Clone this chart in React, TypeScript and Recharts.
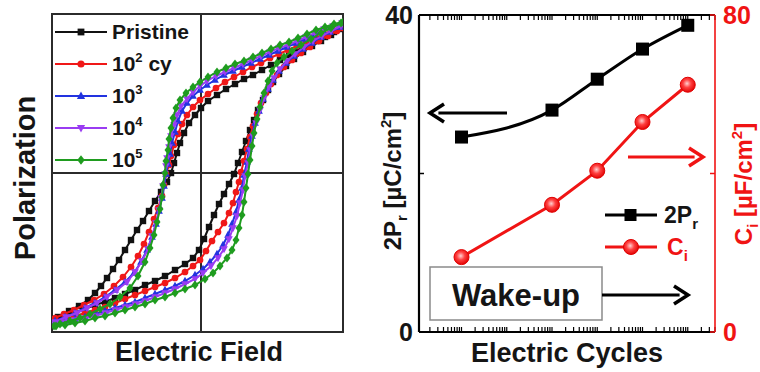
import React from 'react';
import {
  ScatterChart,
  Scatter,
  XAxis,
  YAxis,
  ReferenceLine,
  ReferenceArea,
  ComposedChart,
  Line,
} from 'recharts';

// ---------- Hysteresis loops: [E (MV/cm), P (µC/cm²)] ----------
type Pt = [number, number];

const pristineRise: Pt[] = [[-2.92,-29.2],[-2.72,-28.6],[-2.52,-28.0],[-2.32,-27.2],[-2.12,-26.4],[-1.92,-25.8],[-1.72,-25.0],[-1.52,-24.2],[-1.32,-23.4],[-1.12,-22.4],[-0.92,-21.6],[-0.72,-20.6],[-0.52,-19.4],[-0.32,-18.2],[-0.16,-17.0],[-0.04,-15.4],[0.06,-13.2],[0.16,-10.8],[0.26,-8.4],[0.36,-6.2],[0.46,-4.2],[0.56,-2.2],[0.66,-0.2],[0.74,2.0],[0.82,4.2],[0.90,6.4],[0.98,8.6],[1.06,10.6],[1.14,12.6],[1.24,14.6],[1.34,16.6],[1.44,18.2],[1.56,19.8],[1.70,21.4],[1.86,22.8],[2.04,24.2],[2.22,25.4],[2.40,26.4],[2.60,27.6],[2.80,28.8]];
const pristineFall: Pt[] = [[2.84,29.0],[2.66,28.2],[2.48,27.2],[2.30,26.4],[2.12,25.4],[1.94,24.4],[1.76,23.6],[1.58,22.6],[1.40,21.6],[1.22,20.6],[1.04,19.6],[0.86,18.8],[0.68,17.8],[0.50,16.8],[0.32,15.6],[0.14,14.4],[0.00,13.0],[-0.12,11.6],[-0.24,10.0],[-0.34,8.0],[-0.42,6.0],[-0.48,4.0],[-0.54,2.0],[-0.60,0.0],[-0.68,-1.8],[-0.80,-3.8],[-0.92,-5.6],[-1.04,-7.6],[-1.16,-9.6],[-1.28,-11.4],[-1.40,-13.4],[-1.52,-15.4],[-1.64,-17.4],[-1.76,-19.2],[-1.88,-21.0],[-2.00,-22.6],[-2.12,-24.0],[-2.26,-25.4],[-2.44,-26.6],[-2.64,-27.6],[-2.86,-28.8]];

const cy100Rise: Pt[] = [[-2.92,-29.6],[-2.72,-29.2],[-2.52,-28.6],[-2.32,-28.0],[-2.12,-27.4],[-1.92,-26.8],[-1.72,-26.0],[-1.52,-25.2],[-1.32,-24.4],[-1.12,-23.6],[-0.92,-22.8],[-0.72,-22.0],[-0.52,-21.0],[-0.32,-19.8],[-0.16,-18.6],[-0.02,-17.4],[0.10,-15.6],[0.22,-13.6],[0.34,-11.8],[0.46,-10.0],[0.56,-8.0],[0.64,-6.0],[0.70,-3.8],[0.76,-1.8],[0.80,0.2],[0.86,2.4],[0.92,4.8],[0.98,7.2],[1.04,9.4],[1.12,11.8],[1.20,14.0],[1.30,16.0],[1.40,17.8],[1.52,19.6],[1.66,21.2],[1.82,22.6],[2.00,24.0],[2.18,25.2],[2.36,26.4],[2.54,27.4],[2.72,28.4],[2.82,29.0]];
const cy100Fall: Pt[] = [[2.82,29.4],[2.64,28.6],[2.46,27.8],[2.28,27.0],[2.10,26.2],[1.92,25.4],[1.74,24.6],[1.56,23.8],[1.38,23.0],[1.20,22.0],[1.02,21.2],[0.84,20.2],[0.66,19.2],[0.48,18.2],[0.30,17.0],[0.14,15.8],[-0.02,14.6],[-0.16,13.2],[-0.28,11.6],[-0.38,9.8],[-0.46,7.8],[-0.54,5.6],[-0.60,3.4],[-0.64,1.6],[-0.70,-0.2],[-0.74,-2.4],[-0.78,-4.6],[-0.86,-7.0],[-0.94,-9.2],[-1.04,-11.8],[-1.14,-14.2],[-1.26,-16.6],[-1.40,-18.8],[-1.56,-20.8],[-1.74,-22.6],[-1.94,-24.2],[-2.14,-25.4],[-2.34,-26.4],[-2.54,-27.4],[-2.74,-28.2],[-2.92,-29.0]];

const cy1kRise: Pt[] = [[-2.92,-30.0],[-2.72,-29.6],[-2.52,-29.2],[-2.32,-28.8],[-2.12,-28.2],[-1.92,-27.6],[-1.72,-27.0],[-1.52,-26.4],[-1.32,-25.8],[-1.12,-25.0],[-0.92,-24.2],[-0.72,-23.4],[-0.52,-22.6],[-0.32,-21.6],[-0.12,-20.4],[0.04,-19.2],[0.18,-17.8],[0.32,-16.2],[0.44,-14.4],[0.54,-12.4],[0.62,-10.2],[0.70,-7.8],[0.76,-5.4],[0.82,-3.0],[0.86,-0.4],[0.92,2.2],[0.96,4.8],[1.02,7.4],[1.08,10.0],[1.16,12.4],[1.24,14.8],[1.34,16.8],[1.44,18.6],[1.56,20.4],[1.70,22.0],[1.86,23.4],[2.04,24.8],[2.22,26.0],[2.40,27.2],[2.58,28.2],[2.78,29.2]];
const cy1kFall: Pt[] = [[2.80,29.8],[2.62,29.2],[2.44,28.4],[2.26,27.6],[2.08,26.8],[1.90,26.0],[1.72,25.2],[1.54,24.4],[1.36,23.6],[1.18,22.8],[1.00,22.0],[0.82,21.2],[0.64,20.4],[0.46,19.6],[0.28,18.6],[0.12,17.6],[-0.02,16.6],[-0.16,15.4],[-0.28,14.0],[-0.38,12.4],[-0.46,10.4],[-0.52,8.2],[-0.58,6.0],[-0.62,3.8],[-0.66,1.8],[-0.70,-0.2],[-0.74,-2.6],[-0.78,-5.0],[-0.84,-7.6],[-0.90,-10.2],[-0.98,-12.8],[-1.08,-15.4],[-1.20,-17.8],[-1.34,-20.0],[-1.52,-21.8],[-1.72,-23.4],[-1.92,-24.8],[-2.12,-26.0],[-2.32,-27.0],[-2.52,-28.0],[-2.72,-28.8],[-2.92,-29.6]];

const cy10kRise: Pt[] = [[-2.92,-30.2],[-2.72,-29.8],[-2.52,-29.4],[-2.32,-29.0],[-2.12,-28.6],[-1.92,-28.0],[-1.72,-27.4],[-1.52,-26.8],[-1.32,-26.2],[-1.12,-25.6],[-0.92,-24.8],[-0.72,-24.0],[-0.52,-23.2],[-0.32,-22.2],[-0.12,-21.2],[0.04,-20.0],[0.20,-18.6],[0.34,-17.0],[0.46,-15.2],[0.56,-13.2],[0.64,-11.0],[0.72,-8.6],[0.78,-6.0],[0.84,-3.4],[0.88,-0.6],[0.94,2.0],[0.98,4.6],[1.04,7.4],[1.10,10.0],[1.18,12.6],[1.26,15.0],[1.36,17.2],[1.46,19.0],[1.58,20.8],[1.72,22.4],[1.88,23.8],[2.06,25.2],[2.24,26.4],[2.42,27.4],[2.60,28.4],[2.80,29.4]];
const cy10kFall: Pt[] = [[2.82,30.0],[2.64,29.4],[2.46,28.8],[2.28,28.0],[2.10,27.2],[1.92,26.4],[1.74,25.6],[1.56,25.0],[1.38,24.2],[1.20,23.4],[1.02,22.6],[0.84,21.8],[0.66,21.0],[0.48,20.2],[0.30,19.4],[0.12,18.4],[-0.02,17.4],[-0.16,16.2],[-0.28,14.8],[-0.40,13.4],[-0.48,11.6],[-0.54,9.6],[-0.60,7.4],[-0.64,5.2],[-0.68,3.0],[-0.70,1.4],[-0.72,-0.2],[-0.76,-2.6],[-0.80,-5.0],[-0.84,-7.4],[-0.90,-10.0],[-0.98,-12.6],[-1.06,-15.2],[-1.18,-17.6],[-1.32,-19.8],[-1.48,-21.8],[-1.68,-23.4],[-1.88,-24.8],[-2.08,-26.0],[-2.28,-27.0],[-2.48,-28.0],[-2.70,-28.8],[-2.92,-29.8]];

const cy100kRise: Pt[] = [[-2.90,-30.6],[-2.72,-30.4],[-2.52,-30.0],[-2.32,-29.6],[-2.12,-29.0],[-1.92,-28.6],[-1.72,-28.0],[-1.52,-27.4],[-1.32,-26.8],[-1.12,-26.2],[-0.92,-25.4],[-0.72,-24.8],[-0.52,-24.0],[-0.32,-23.2],[-0.12,-22.4],[0.08,-21.2],[0.24,-20.0],[0.38,-18.6],[0.52,-17.0],[0.62,-15.4],[0.70,-13.4],[0.76,-11.0],[0.82,-8.4],[0.86,-5.8],[0.90,-3.0],[0.94,-0.2],[0.98,2.6],[1.02,5.4],[1.06,8.0],[1.12,10.8],[1.18,13.2],[1.26,16.0],[1.34,18.4],[1.42,20.4],[1.52,22.0],[1.66,23.2],[1.82,24.4],[2.00,25.6],[2.20,26.8],[2.40,28.0],[2.60,29.0],[2.80,30.0]];
const cy100kFall: Pt[] = [[2.84,30.2],[2.66,29.8],[2.48,29.2],[2.30,28.6],[2.12,27.8],[1.94,27.0],[1.76,26.2],[1.58,25.6],[1.40,24.8],[1.22,24.0],[1.04,23.2],[0.86,22.4],[0.68,21.8],[0.50,21.0],[0.32,20.2],[0.14,19.2],[-0.02,18.2],[-0.16,17.2],[-0.30,16.0],[-0.42,14.6],[-0.50,13.0],[-0.56,11.0],[-0.60,9.0],[-0.64,6.8],[-0.66,4.6],[-0.70,2.4],[-0.72,0.0],[-0.76,-2.4],[-0.78,-4.8],[-0.82,-7.2],[-0.88,-9.8],[-0.94,-12.4],[-1.02,-15.0],[-1.12,-17.8],[-1.26,-20.6],[-1.42,-23.0],[-1.62,-24.8],[-1.82,-26.2],[-2.02,-27.2],[-2.22,-28.2],[-2.42,-29.0],[-2.62,-29.6],[-2.82,-30.2],[-2.94,-30.6]];

const loopNames = ['Pristine', '10', '10', '10', '10'];
const loopNameSup = ['', '2', '3', '4', '5'];
const loopNameTail = ['', ' cy', '', '', ''];
const loopColors = ['#111111', '#f01818', '#2233e0', '#9a3cf2', '#1f9c1f'];
type MarkerKind = 'square' | 'circle' | 'up' | 'down' | 'diamond';
const loopMarkers: MarkerKind[] = ['square', 'circle', 'up', 'down', 'diamond'];
const loopBranches: [Pt[], Pt[]][] = [
  [pristineRise, pristineFall],
  [cy100Rise, cy100Fall],
  [cy1kRise, cy1kFall],
  [cy10kRise, cy10kFall],
  [cy100kRise, cy100kFall],
];

const E_DOMAIN: [number, number] = [-2.98, 2.84];
const P_DOMAIN: [number, number] = [-31.8, 31.8];

// ---------- Wake-up trend ----------
const cycles = [1, 1e2, 1e3, 1e4, 1e5];
const twoPr = [24.6, 28.0, 31.9, 35.7, 38.7];
const ci = [18.9, 32.1, 40.7, 53.0, 62.4];

const prTicks = [0, 20, 40];
const prTickLabels = ['0', '', '40'];
const ciTicks = [0, 40, 80];
const ciTickLabels = ['0', '', '80'];
const CYCLE_DOMAIN: [number, number] = [0.115, 4e5];
const decadeStarts = [0.1, 1, 10, 100, 1e3, 1e4, 1e5];
const minorSteps = [1, 2, 3, 4, 5, 6, 7, 8, 9];

const FONT = '"Liberation Sans", Arial, Helvetica, sans-serif';
const RED = '#f01414';
const INK = '#151515';

const cycleTicks = decadeStarts
  .flatMap((d) => minorSteps.map((m) => +(d * m).toPrecision(3)))
  .filter((v) => v >= CYCLE_DOMAIN[0] && v <= CYCLE_DOMAIN[1]);

const trendRows = cycles.map((c, i) => ({ cycles: c, pr: twoPr[i], ci: ci[i] }));

const loops = loopBranches.map(([rise, fall], i) => ({
  name: loopNames[i] + loopNameSup[i] + loopNameTail[i],
  color: loopColors[i],
  marker: loopMarkers[i],
  points: [...rise, ...fall].map(([E, P]) => ({ E, P })),
}));

function Marker({ kind, cx, cy, color, s }: { kind: MarkerKind; cx: number; cy: number; color: string; s: number }) {
  if (cx == null || cy == null) return null;
  switch (kind) {
    case 'square':
      return <rect x={cx - s} y={cy - s} width={2 * s} height={2 * s} fill={color} />;
    case 'circle':
      return <circle cx={cx} cy={cy} r={s * 1.05} fill={color} />;
    case 'up':
      return <polygon points={`${cx},${cy - s * 1.3} ${cx + s * 1.2},${cy + s * 0.85} ${cx - s * 1.2},${cy + s * 0.85}`} fill={color} />;
    case 'down':
      return <polygon points={`${cx},${cy + s * 1.3} ${cx + s * 1.2},${cy - s * 0.85} ${cx - s * 1.2},${cy - s * 0.85}`} fill={color} />;
    default:
      return <polygon points={`${cx},${cy - s * 1.4} ${cx + s * 1.1},${cy} ${cx},${cy + s * 1.4} ${cx - s * 1.1},${cy}`} fill={color} />;
  }
}

function SquareDot(p: any) {
  if (p.cx == null || p.cy == null) return <g key={p.index} />;
  return <rect key={p.index} x={p.cx - 6.5} y={p.cy - 6.5} width={13} height={13} fill="#000" />;
}

function BallDot(p: any) {
  if (p.cx == null || p.cy == null) return <g key={p.index} />;
  const id = `ball-${p.index}`;
  return (
    <g key={p.index}>
      <defs>
        <radialGradient id={id} cx="45%" cy="42%" r="60%">
          <stop offset="0%" stopColor="#ffd0d0" />
          <stop offset="45%" stopColor="#ff4040" />
          <stop offset="100%" stopColor="#e00000" />
        </radialGradient>
      </defs>
      <circle cx={p.cx} cy={p.cy} r={7.5} fill={`url(#${id})`} stroke="#e00000" strokeWidth={1} />
    </g>
  );
}

function Arrow({ x1, x2, y, color }: { x1: number; x2: number; y: number; color: string }) {
  const dir = x2 > x1 ? 1 : -1;
  const head = 14;
  return (
    <g>
      <line x1={x1} y1={y} x2={x2 - dir * head * 0.6} y2={y} stroke={color} strokeWidth={3} />
      <polyline
        points={`${x2 - dir * head},${y - 9} ${x2},${y} ${x2 - dir * head},${y + 9}`}
        fill="none"
        stroke={color}
        strokeWidth={3.5}
        strokeLinejoin="miter"
      />
    </g>
  );
}

// tick marks without a label
const noLabel = () => <g />;

const prTick = (p: any) => {
  const i = prTicks.indexOf(p.payload?.value);
  return (
    <text x={p.x} y={p.y} dy={9} textAnchor="end" fontSize={25} fontWeight="bold" fill={INK} fontFamily={FONT}>
      {prTickLabels[i] ?? ''}
    </text>
  );
};

const ciTick = (p: any) => {
  const i = ciTicks.indexOf(p.payload?.value);
  return (
    <text x={p.x} y={p.y} dy={9} textAnchor="start" fontSize={25} fontWeight="bold" fill={RED} fontFamily={FONT}>
      {ciTickLabels[i] ?? ''}
    </text>
  );
};

export default function App() {
  return (
    <div style={{ position: 'absolute', left: 0, top: 0, width: 760, height: 372, background: '#fff', fontFamily: FONT }}>
      {/* P–E loops */}
      <div style={{ position: 'absolute', left: 0, top: 0 }}>
        <ScatterChart width={370} height={372} margin={{ top: 14, right: 27, bottom: 40, left: 52 }}>
          <XAxis type="number" dataKey="E" domain={E_DOMAIN} hide allowDataOverflow />
          <YAxis type="number" dataKey="P" domain={P_DOMAIN} hide allowDataOverflow />
          <ReferenceArea
            x1={E_DOMAIN[0]}
            x2={E_DOMAIN[1]}
            y1={P_DOMAIN[0]}
            y2={P_DOMAIN[1]}
            fill="none"
            fillOpacity={0}
            stroke="#2b2b2b"
            strokeWidth={2}
          />
          <ReferenceLine x={0} stroke="#2b2b2b" strokeWidth={2} />
          <ReferenceLine y={0} stroke="#2b2b2b" strokeWidth={2} />
          {loops.map((s) => (
            <Scatter
              key={s.name}
              name={s.name}
              data={s.points}
              fill={s.color}
              line={{ stroke: s.color, strokeWidth: 2 }}
              lineType="joint"
              isAnimationActive={false}
              shape={(p: any) => <Marker kind={s.marker} cx={p.cx} cy={p.cy} color={s.color} s={3.2} />}
            />
          ))}
        </ScatterChart>
      </div>

      {/* 2Pr and Ci versus cycles (both x axes share the same log scale) */}
      <div style={{ position: 'absolute', left: 370, top: 0 }}>
        <ComposedChart width={390} height={372} data={trendRows} margin={{ top: 14, right: 44, bottom: 39, left: 48 }}>
          <XAxis
            xAxisId="bottom"
            dataKey="cycles"
            type="number"
            scale="log"
            domain={CYCLE_DOMAIN}
            allowDataOverflow
            ticks={cycleTicks}
            interval={0}
            tick={noLabel}
            tickSize={-5}
            height={1}
            axisLine={{ stroke: '#000', strokeWidth: 2.2 }}
            tickLine={{ stroke: '#000', strokeWidth: 1.2 }}
          />
          <XAxis
            xAxisId="top"
            orientation="top"
            dataKey="cycles"
            type="number"
            scale="log"
            domain={CYCLE_DOMAIN}
            allowDataOverflow
            ticks={cycleTicks}
            interval={0}
            tick={noLabel}
            tickSize={-5}
            height={1}
            axisLine={{ stroke: '#000', strokeWidth: 2.2 }}
            tickLine={{ stroke: '#000', strokeWidth: 1.2 }}
          />
          <YAxis
            yAxisId="pr"
            type="number"
            domain={[0, 40]}
            ticks={prTicks}
            interval={0}
            width={1}
            tickSize={-5}
            tickMargin={11}
            tick={prTick}
            axisLine={{ stroke: '#000', strokeWidth: 2.2 }}
            tickLine={{ stroke: '#000', strokeWidth: 1.5 }}
          />
          <YAxis
            yAxisId="ci"
            orientation="right"
            type="number"
            domain={[0, 80]}
            ticks={ciTicks}
            interval={0}
            width={1}
            tickSize={-5}
            tickMargin={13}
            tick={ciTick}
            axisLine={{ stroke: RED, strokeWidth: 1.6 }}
            tickLine={{ stroke: RED, strokeWidth: 1.5 }}
          />
          <Line
            xAxisId="bottom"
            yAxisId="pr"
            dataKey="pr"
            type="monotone"
            stroke="#000"
            strokeWidth={3}
            dot={SquareDot}
            activeDot={false}
            isAnimationActive={false}
          />
          <Line
            xAxisId="top"
            yAxisId="ci"
            dataKey="ci"
            type="linear"
            stroke={RED}
            strokeWidth={3}
            dot={BallDot}
            activeDot={false}
            isAnimationActive={false}
          />
        </ComposedChart>
      </div>

      {/* labels, legends and annotations */}
      <svg width={760} height={372} style={{ position: 'absolute', left: 0, top: 0, pointerEvents: 'none' }} fontFamily={FONT}>
        {loops.map((s, i) => {
          const y = 32 + i * 32;
          return (
            <g key={s.name}>
              <line x1={55} x2={107} y1={y} y2={y} stroke={s.color} strokeWidth={2.2} />
              <Marker kind={s.marker} cx={81} cy={y} color={s.color} s={3.4} />
              <text x={112} y={y + 7} fontSize={21} fontWeight="bold" fill={INK}>
                {loopNames[i]}
                {loopNameSup[i] && (
                  <tspan fontSize={13} dy={-9}>
                    {loopNameSup[i]}
                  </tspan>
                )}
                {loopNameTail[i] && <tspan dy={9}>{loopNameTail[i]}</tspan>}
              </text>
            </g>
          );
        })}

        <text x={199} y={361} textAnchor="middle" fontSize={27} fontWeight="bold" fill={INK}>
          Electric Field
        </text>
        <text transform="translate(35,178) rotate(-90)" textAnchor="middle" fontSize={29} fontWeight="bold" fill={INK}>
          Polarization
        </text>

        <text x={567} y={362} textAnchor="middle" fontSize={27} fontWeight="bold" fill={INK}>
          Electric Cycles
        </text>
        <text transform="translate(401,181) rotate(-90)" textAnchor="middle" fontSize={24} fontWeight="bold" fill={INK}>
          2P
          <tspan fontSize={15} dy={6}>r</tspan>
          <tspan dy={-6}> [µC/cm</tspan>
          <tspan fontSize={15} dy={-10}>2</tspan>
          <tspan dy={10}>]</tspan>
        </text>
        <text transform="translate(752,184) rotate(-90)" textAnchor="middle" fontSize={24} fontWeight="bold" fill={RED}>
          C
          <tspan fontSize={15} dy={6}>i</tspan>
          <tspan dy={-6}> [µF/cm</tspan>
          <tspan fontSize={15} dy={-10}>2</tspan>
          <tspan dy={10}>]</tspan>
        </text>

        {/* series key */}
        <line x1={605} x2={657} y1={215} y2={215} stroke="#000" strokeWidth={3} />
        <rect x={624.5} y={209} width={12} height={12} fill="#000" />
        <text x={664} y={223} fontSize={23} fontWeight="bold" fill={INK}>
          2P<tspan fontSize={15} dy={6}>r</tspan>
        </text>
        <line x1={605} x2={657} y1={247} y2={247} stroke={RED} strokeWidth={3} />
        <BallDot cx={631} cy={247} index={99} />
        <text x={667} y={255} fontSize={23} fontWeight="bold" fill={RED}>
          C<tspan fontSize={15} dy={6}>i</tspan>
        </text>

        <Arrow x1={507} x2={430} y={113} color="#000" />
        <Arrow x1={628} x2={703} y={157} color={RED} />

        <rect x={430} y={267} width={172} height={53} fill="#fff" stroke="#8a8a8a" strokeWidth={1.5} />
        <text x={516} y={306} textAnchor="middle" fontSize={31} fontWeight="bold" fill={INK}>
          Wake-up
        </text>
        <Arrow x1={602} x2={688} y={295} color="#000" />
      </svg>
    </div>
  );
}
